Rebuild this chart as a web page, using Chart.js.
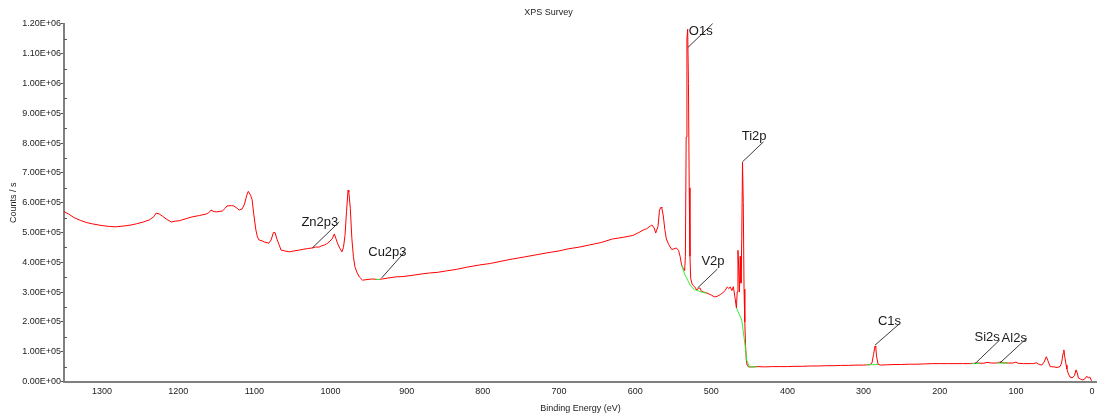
<!DOCTYPE html>
<html>
<head>
<meta charset="utf-8">
<title>XPS Survey</title>
<script src="https://cdn.jsdelivr.net/npm/chart.js@4.4.1/dist/chart.umd.min.js"></script>
<style>
  body { margin: 0; background: #fff; }
  #wrap { width: 1097px; height: 414px; }
</style>
</head>
<body>
<div id="wrap"><canvas id="xps" width="1097" height="414"></canvas></div>
<script>
// Spectre XPS : énergie de liaison (eV) et comptes (k counts/s)
const bindingEnergy = [
  1350, 1344, 1337, 1328, 1320, 1313, 1300, 1290, 1282, 1270, 1262, 1255, 1246, 1238, 1232, 1229,
  1225, 1221, 1215, 1209, 1204, 1199, 1190, 1182, 1172, 1163, 1160, 1157, 1153, 1150, 1142, 1138,
  1136, 1130, 1127, 1122, 1120, 1116, 1113, 1110, 1108, 1105, 1103, 1101, 1098, 1096, 1094, 1090,
  1087, 1081, 1078, 1075, 1073, 1070, 1067, 1065, 1060, 1054, 1048, 1041, 1035, 1030, 1024, 1020,
  1015, 1012, 1008, 1005, 1002, 998, 995, 993, 991, 988, 985, 983, 981, 979, 977, 976,
  974, 972, 970, 968, 965, 962, 958, 952, 945, 938, 932, 925, 914, 905, 893, 880,
  870, 860, 848, 835, 820, 804, 790, 775, 761, 745, 730, 717, 700, 688, 673, 660,
  645, 630, 615, 603, 595, 588, 585, 580, 578, 575, 573, 570, 568, 566, 565, 563,
  561, 559, 556, 552, 549, 546, 543, 541, 539, 537, 535, 534, 533, 532, 531, 530,
  529, 528, 527, 525, 522, 519, 517, 515, 513, 510, 506, 500, 496, 492, 488, 485,
  482, 479, 477, 475, 473, 471, 469, 467, 466, 465, 464, 463, 462, 461, 460, 459,
  458, 457, 456, 455, 454, 453, 451, 445, 440, 430, 420, 410, 400, 390, 380, 370,
  360, 350, 340, 330, 320, 310, 300, 296, 292, 289, 287, 285, 284, 283, 281, 278,
  270, 260, 250, 240, 230, 220, 209, 200, 190, 180, 170, 160, 156, 150, 143, 138,
  132, 125, 120, 118, 110, 104, 100, 97, 90, 80, 77, 73, 70, 66, 63, 60,
  58, 55, 50, 46, 42, 40, 38, 37, 36, 34, 33, 31, 29, 26, 23, 21,
  19, 18, 15, 12, 9, 7, 5, 3, 1, 0
];
const countsK = [
  570, 562, 550, 540, 533, 529, 523, 520, 519, 522, 525, 529, 535, 542, 553, 565,
  562, 555, 544, 535, 538, 539, 546, 552, 557, 562, 566, 575, 570, 569, 572, 582,
  589, 590, 589, 580, 575, 579, 595, 625, 638, 625, 610, 565, 508, 485, 475, 472,
  468, 464, 475, 500, 500, 475, 455, 441, 438, 435, 438, 441, 444, 446, 448, 451,
  451, 455, 458, 462, 468, 478, 495, 480, 465, 448, 435, 450, 490, 570, 642, 635,
  580, 480, 420, 385, 364, 350, 340, 342, 344, 342, 344, 347, 351, 352, 356, 361,
  364, 366, 371, 376, 384, 391, 396, 404, 411, 418, 425, 431, 438, 445, 451, 458,
  466, 478, 484, 490, 500, 510, 512, 522, 525, 515, 498, 520, 575, 585, 582, 555,
  510, 478, 460, 443, 445, 448, 440, 420, 391, 380, 372, 420, 820, 1150, 1182, 1000,
  650, 420, 345, 325, 318, 307, 312, 314, 303, 300, 297, 290, 284, 286, 292, 297,
  305, 317, 312, 317, 305, 318, 284, 247, 300, 440, 380, 300, 420, 330, 480, 736,
  600, 310, 200, 120, 72, 55, 49, 49, 50, 49, 50, 50, 50, 51, 51, 52,
  52, 53, 53, 54, 54, 55, 55, 56, 56, 62, 90, 119, 115, 85, 58, 55,
  56, 57, 57, 58, 58, 59, 60, 60, 60, 60, 60, 60, 61, 62, 61, 64,
  62, 62, 66, 63, 62, 62, 65, 61, 60, 60, 60, 63, 58, 55, 65, 83,
  70, 50, 49, 47, 50, 62, 95, 106, 85, 55, 42, 25, 15, 12, 20, 39,
  25, 12, 8, 5, 10, 18, 12, 15, 4, 2
];

// Fonds (Shirley) en vert, segments séparés par null
const bgEnergy = [941, 935, null, 539, 535, 531, 527, 522, 518, 513, 506, null,
  467, 460, 456, 453.5, 450, 440, null, 296, 281, null, 158, 147, null, 125, 110];
const bgCountsK = [343, 342, null, 391, 360, 340, 320, 308, 305, 300, 296, null,
  247, 206, 129, 72, 49, 49, null, 56, 57, null, 60, 61, null, 62, 62];

// Annotations des pics
const peakNames = ['O1s', 'Ti2p', 'V2p', 'C1s', 'Si2s', 'Al2s', 'Zn2p3', 'Cu2p3'];
const peakEnergy = [531, 459, 518, 285, 154, 121, 1024, 933];
const peakCountsK = [1120, 737, 314, 122, 59, 62, 448, 347];

// décalages de la ligne de rappel et du texte (px)
const leaderOffsets = [
  [25, -24, 0, 8], [21, -20, 3, -5], [20, -19, 7, -7], [24, -21, 2, -3],
  [25, -24, 0, -2], [27, -25, 0, 0], [27, -26, -1, 0], [23, -26, 2, 0]
];

const spectrum = bindingEnergy.map((e, i) => ({ x: e, y: countsK[i] * 1000 }));
let lastX = 0;
const background = bgEnergy.map((e, i) => {
  if (e === null) return { x: lastX, y: null };
  lastX = e;
  return { x: e, y: bgCountsK[i] * 1000 };
});

// Format 1.20E+06
function sci(v) {
  if (v === 0) return '0.00E+00';
  const e = Math.floor(Math.log10(v) + 1e-9);
  const m = v / Math.pow(10, e);
  return m.toFixed(2) + 'E+' + String(e).padStart(2, '0');
}

// Petites graduations intermédiaires sur l'axe Y
const minorTicks = {
  id: 'minorTicks',
  afterDraw(chart) {
    const { ctx, chartArea, scales } = chart;
    ctx.save();
    ctx.strokeStyle = '#555';
    ctx.lineWidth = 1;
    for (let v = 50000; v < 1200000; v += 100000) {
      const y = Math.round(scales.y.getPixelForValue(v)) + 0.5;
      ctx.beginPath();
      ctx.moveTo(chartArea.left, y);
      ctx.lineTo(chartArea.left + 3, y);
      ctx.stroke();
    }
    ctx.restore();
  }
};

// Étiquettes des pics avec ligne de rappel
const peakLabels = {
  id: 'peakLabels',
  afterDatasetsDraw(chart) {
    const { ctx, scales } = chart;
    ctx.save();
    ctx.font = '13px "Liberation Sans", Arial, sans-serif';
    ctx.textAlign = 'right';
    ctx.textBaseline = 'middle';
    peakNames.forEach((name, i) => {
      const px = scales.x.getPixelForValue(peakEnergy[i]);
      const py = scales.y.getPixelForValue(peakCountsK[i] * 1000);
      const [dx, dy, tx, ty] = leaderOffsets[i];
      ctx.strokeStyle = '#3a3a3a';
      ctx.lineWidth = 1;
      ctx.beginPath();
      ctx.moveTo(px, py);
      ctx.lineTo(px + dx, py + dy);
      ctx.stroke();
      ctx.fillStyle = '#1a1a1a';
      ctx.fillText(name, px + dx + tx, py + dy + ty);
    });
    ctx.restore();
  }
};

Chart.defaults.font.family = '"Liberation Sans", Arial, sans-serif';
Chart.defaults.color = '#222';

new Chart(document.getElementById('xps'), {
  type: 'line',
  data: {
    datasets: [
      {
        label: 'Background',
        data: background,
        borderColor: '#33ee33',
        borderWidth: 1,
        pointRadius: 0,
        spanGaps: false,
        tension: 0
      },
      {
        label: 'Survey',
        data: spectrum,
        borderColor: '#ff0000',
        borderWidth: 1,
        pointRadius: 0,
        tension: 0
      }
    ]
  },
  options: {
    responsive: false,
    animation: false,
    layout: { padding: 0 },
    plugins: {
      legend: { display: false },
      tooltip: { enabled: false },
      title: {
        display: true,
        text: 'XPS Survey',
        color: '#222',
        font: { size: 9, weight: 'normal', lineHeight: 1.2 },
        padding: { top: 7, bottom: 6 }
      }
    },
    scales: {
      x: {
        type: 'linear',
        reverse: true,
        min: -6.5,
        max: 1350,
        border: { display: true, color: '#808080', width: 2 },
        grid: { display: false, drawTicks: false },
        ticks: { stepSize: 100, includeBounds: false, font: { size: 9 }, padding: 5, maxRotation: 0, callback: v => String(v) },
        title: { display: true, text: 'Binding Energy (eV)', font: { size: 9 }, padding: { top: 3.5, bottom: 0 } },
        afterFit(scale) {
          scale.height = 32.5;
          scale.paddingLeft = 0;
          scale.paddingRight = 0;
        }
      },
      y: {
        min: 0,
        max: 1200000,
        border: { display: true, color: '#808080', width: 2 },
        grid: { display: true, drawOnChartArea: false, drawTicks: true, tickLength: 3, color: '#555' },
        ticks: { stepSize: 100000, font: { size: 9 }, padding: 0, callback: v => sci(v) },
        title: { display: true, text: 'Counts / s', font: { size: 9 }, padding: { top: 8.6, bottom: 0 } },
        afterFit(scale) { scale.width = 64; }
      }
    }
  },
  plugins: [minorTicks, peakLabels]
});
</script>
</body>
</html>
